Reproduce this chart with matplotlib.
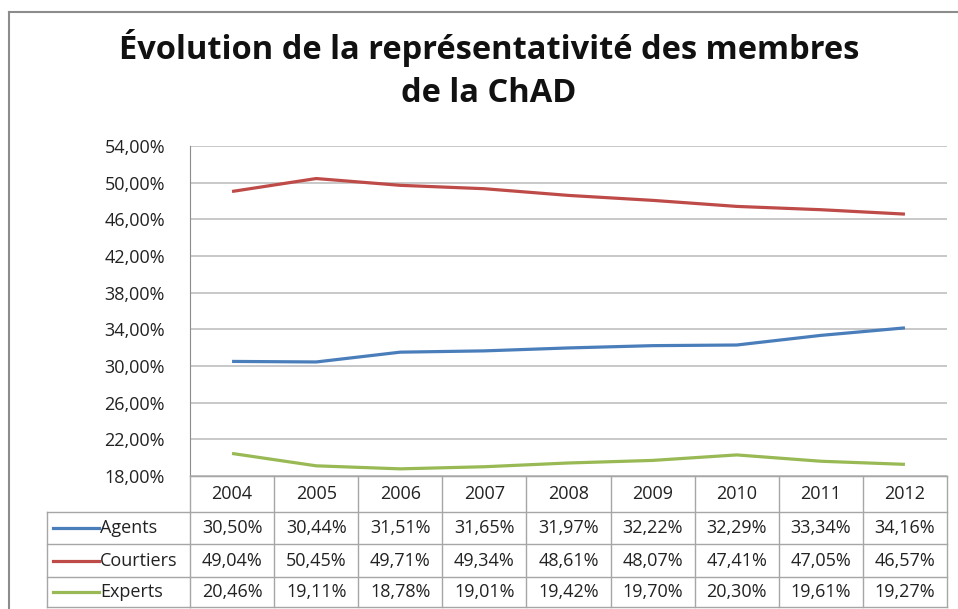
import matplotlib
matplotlib.use("Agg")
import matplotlib.pyplot as plt
import matplotlib.transforms as mtransforms
from matplotlib.lines import Line2D

years = ["2004", "2005", "2006", "2007", "2008", "2009", "2010", "2011", "2012"]
series_names = ["Agents", "Courtiers", "Experts"]
agents = [30.50, 30.44, 31.51, 31.65, 31.97, 32.22, 32.29, 33.34, 34.16]
courtiers = [49.04, 50.45, 49.71, 49.34, 48.61, 48.07, 47.41, 47.05, 46.57]
experts = [20.46, 19.11, 18.78, 19.01, 19.42, 19.70, 20.30, 19.61, 19.27]
colors = ["#4A7EBB", "#BE4B48", "#98B954"]
yticks = [18, 22, 26, 30, 34, 38, 42, 46, 50, 54]

W, H = 958, 609
fig = plt.figure(figsize=(W / 100, H / 100), dpi=100)
plt.rcParams['font.family'] = ['Open Sans', 'DejaVu Sans']

def fx(px):
    return px / W

def fy(py):
    return 1 - py / H

# frame
fig.add_artist(Line2D([fx(9), fx(9)], [fy(12), fy(609)], color="#8C8C8C", lw=1.5))
fig.add_artist(Line2D([fx(9), fx(958)], [fy(12), fy(12)], color="#8C8C8C", lw=1.5))

left, right, top, bottom = 190, 947, 146, 476
ax = fig.add_axes([fx(left), fy(bottom), fx(right) - fx(left), (bottom - top) / H])

x = list(range(len(years)))
data = [agents, courtiers, experts]
for vals, c in zip(data, colors):
    ax.plot(x, vals, color=c, lw=2.3, solid_capstyle="butt")

ax.set_xlim(-0.5, len(years) - 0.5)
ax.set_ylim(18, 54)
ax.set_yticks(yticks)
ax.set_yticklabels([f"{v:.2f}%".replace(".", ",") for v in yticks], fontsize=13, color="#222222")
ax.set_xticks([])
ax.grid(axis="y", color="#BFBFBF", lw=1.2)
ax.set_axisbelow(True)
for s in ["top", "right"]:
    ax.spines[s].set_visible(False)
ax.spines["left"].set_color("#8C8C8C")
ax.spines["bottom"].set_color("#8C8C8C")
ax.tick_params(axis="y", length=0, pad=18)

# table below axes
trans = mtransforms.blended_transform_factory(ax.transData, fig.transFigure)
row_edges = [476, 512, 544, 577, 607]
grid_c = "#A6A6A6"
n = len(years)
for ry in row_edges:
    fig.add_artist(Line2D([-0.5, n - 0.5], [fy(ry), fy(ry)], transform=trans, color=grid_c, lw=1))
for k in range(n + 1):
    xx = k - 0.5
    fig.add_artist(Line2D([xx, xx], [fy(476), fy(607)], transform=trans, color=grid_c, lw=1))
for ry in row_edges[1:]:
    fig.add_artist(Line2D([fx(47), fx(190)], [fy(ry), fy(ry)], color=grid_c, lw=1))
fig.add_artist(Line2D([fx(47), fx(47)], [fy(512), fy(607)], color=grid_c, lw=1))

tfs = 13
for i, yr in enumerate(years):
    fig.text(i, fy((476 + 512) / 2), yr, transform=trans, ha="center", va="center",
             fontsize=tfs, color="#222222")
for r, (name, vals, c) in enumerate(zip(series_names, data, colors)):
    yc = fy((row_edges[r + 1] + row_edges[r + 2]) / 2)
    for i, v in enumerate(vals):
        fig.text(i, yc, f"{v:.2f}%".replace(".", ","), transform=trans, ha="center", va="center",
                 fontsize=tfs, color="#222222")
    fig.add_artist(Line2D([fx(53), fx(99)], [yc, yc], color=c, lw=2.3))
    fig.text(fx(100), yc, name, ha="left", va="center", fontsize=tfs, color="#222222")

fig.text(fx(489), fy(48), "Évolution de la représentativité des membres", ha="center", va="center",
         fontsize=23.5, fontweight="bold", color="#111111")
fig.text(fx(489), fy(93), "de la ChAD", ha="center", va="center",
         fontsize=23.5, fontweight="bold", color="#111111")

fig.savefig("out.png", dpi=100)
